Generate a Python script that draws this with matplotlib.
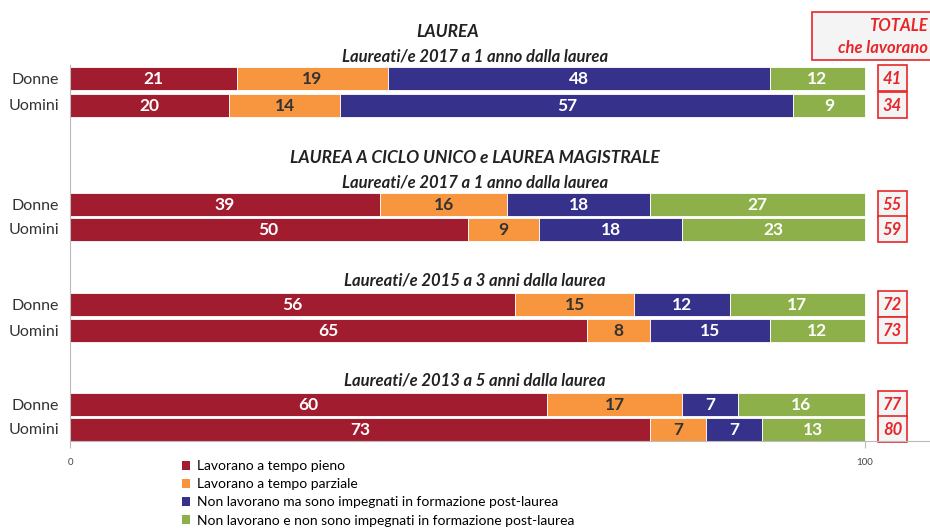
import matplotlib.pyplot as plt
from matplotlib.patches import Rectangle, Patch

plt.rcParams['font.family'] = ['Lato', 'DejaVu Sans']

# Data
series = ["Lavorano a tempo pieno",
          "Lavorano a tempo parziale",
          "Non lavorano ma sono impegnati in formazione post-laurea",
          "Non lavorano e non sono impegnati in formazione post-laurea"]
colors = ["#A21C2F", "#F7963F", "#36318A", "#8DB04A"]
label_colors = ["white", "#333333", "white", "white"]

row_labels = ["Donne", "Uomini"] * 4
tempo_pieno = [21, 20, 39, 50, 56, 65, 60, 73]
tempo_parziale = [19, 14, 16, 9, 15, 8, 17, 7]
formazione = [48, 57, 18, 18, 12, 15, 7, 7]
non_formazione = [12, 9, 27, 23, 17, 12, 16, 13]
totale = [41, 34, 55, 59, 72, 73, 77, 80]

titles = ["LAUREA", "LAUREA A CICLO UNICO e LAUREA MAGISTRALE"]
subtitles = ["Laureati/e 2017 a 1 anno dalla laurea",
             "Laureati/e 2017 a 1 anno dalla laurea",
             "Laureati/e 2015 a 3 anni dalla laurea",
             "Laureati/e 2013 a 5 anni dalla laurea"]

# Layout (pixel-like vertical units, top = 0)
rows_y = [78, 105, 204, 229, 304, 330, 404, 429]
bar_h = 23
W, H = 930, 528
x0_px, x100_px = 70, 865
scale = (x100_px - x0_px) / 100

fig = plt.figure(figsize=(W / 100, H / 100), dpi=100)
ax = fig.add_axes([x0_px / W, (H - 441) / H, (W - x0_px) / W, (441 - 65) / H])
ax.set_ylim(441, 65)
ax.set_xlim(0, (W - x0_px) / scale)

values = [tempo_pieno, tempo_parziale, formazione, non_formazione]
left = [0] * len(rows_y)
for vals, col, lc in zip(values, colors, label_colors):
    ax.barh(rows_y, vals, left=left, height=bar_h, color=col,
            edgecolor="white", linewidth=0.6)
    for y, v, l in zip(rows_y, vals, left):
        ax.text(l + v / 2, y + 1, str(v), ha="center", va="center",
                color=lc, fontsize=12.5, fontweight="bold")
    left = [a + b for a, b in zip(left, vals)]

def px2x(px):
    return (px - x0_px) / scale

# totals boxes
red = "#E8262A"
for y, t in zip(rows_y, totale):
    ax.add_patch(Rectangle((px2x(878), y - 13), px2x(907) - px2x(878), 26,
                           facecolor="#F4F4F4", edgecolor=red, linewidth=1.2,
                           clip_on=False))
    ax.text((px2x(878) + px2x(907)) / 2, y + 1, str(t), ha="center", va="center",
            color=red, fontsize=12, fontweight="bold", style="italic")

# header box
ax.add_patch(Rectangle((px2x(812), 12), px2x(935) - px2x(812), 48,
                       facecolor="#F4F4F4", edgecolor=red, linewidth=1.2,
                       clip_on=False))
ax.text(px2x(928), 26, "TOTALE", ha="right", va="center", color=red,
        fontsize=12, fontweight="bold", style="italic")
ax.text(px2x(928), 48, "che lavorano", ha="right", va="center", color=red,
        fontsize=12, fontweight="bold", style="italic")

# titles
tx = px2x(475)
ax.text(px2x(448), 32, titles[0], ha="center", va="center", fontsize=12.5,
        fontweight="bold", style="italic", color="#222222")
ax.text(tx, 158, titles[1], ha="center", va="center", fontsize=12.5,
        fontweight="bold", style="italic", color="#222222")
for y, s in zip([57, 182, 281, 381], subtitles):
    ax.text(tx, y, s, ha="center", va="center", fontsize=12,
            fontweight="bold", style="italic", color="#222222")

# axes styling
for s in ["top", "right"]:
    ax.spines[s].set_visible(False)
ax.spines["left"].set_color("#BBBBBB")
ax.spines["bottom"].set_color("#BBBBBB")
ax.set_yticks(rows_y)
ax.set_yticklabels(row_labels, fontsize=11.5, color="#333333")
ax.tick_params(axis="y", length=0, pad=8)
ax.set_xticks([0, 100])
ax.set_xticklabels(["0", "100"], fontsize=7, color="#444444")
ax.tick_params(axis="x", length=5, color="#BBBBBB", pad=7)

handles = [Patch(facecolor=c, label=s) for c, s in zip(colors, series)]
fig.legend(handles=handles, loc="upper left",
           bbox_to_anchor=(182 / W, 1 - 460 / H), fontsize=10, frameon=False,
           labelspacing=0.45, handlelength=0.6, handleheight=0.6,
           handletextpad=0.5, borderpad=0, borderaxespad=0)

fig.savefig("out.png", dpi=100)
